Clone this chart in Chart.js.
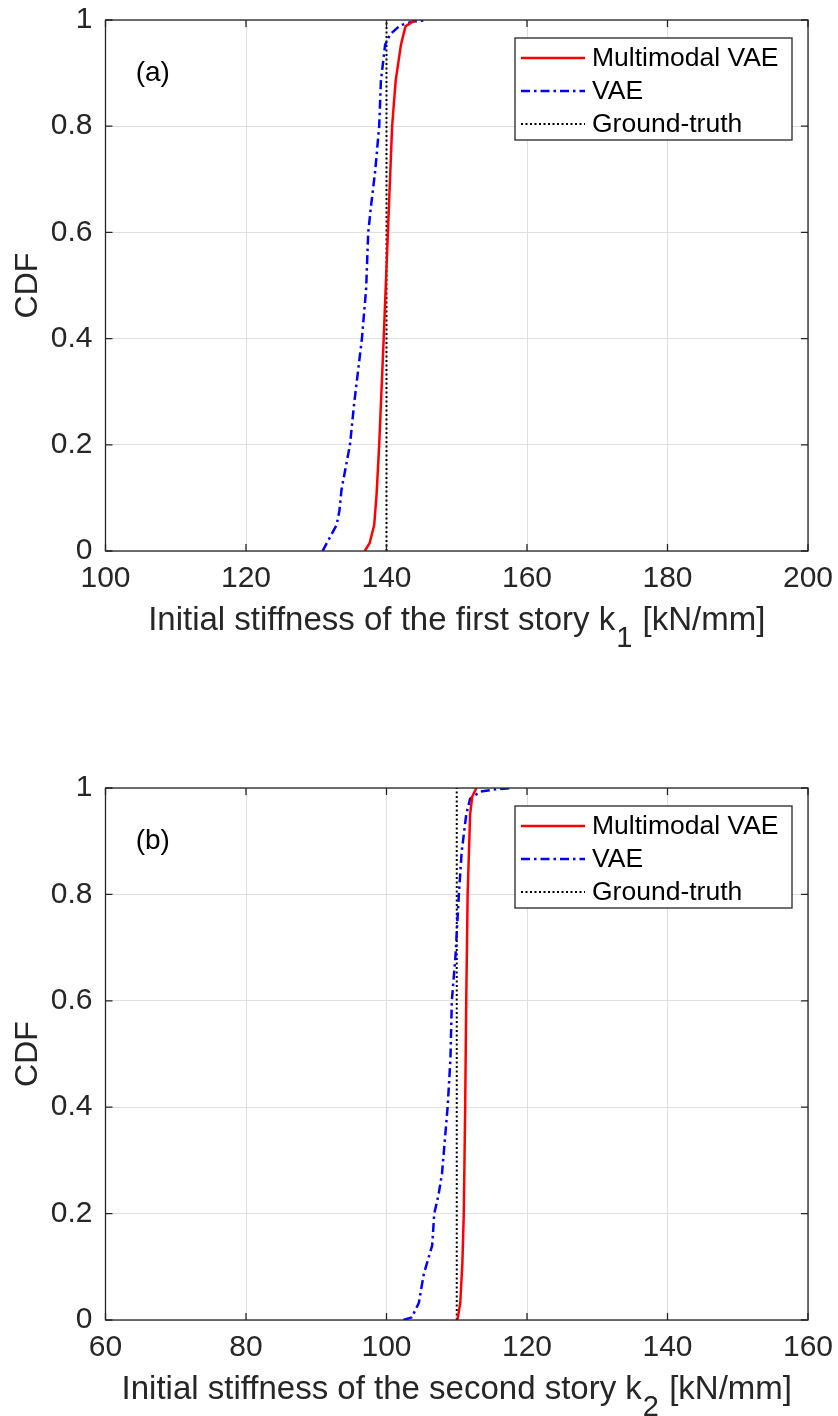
<!DOCTYPE html>
<html>
<head>
<meta charset="utf-8">
<script src="https://cdn.jsdelivr.net/npm/chart.js@4/dist/chart.umd.min.js"></script>
<style>
  body { margin: 0; background: #fff; }
  #wrap { position: relative; width: 838px; height: 1416px; }
  canvas { position: absolute; left: 0; }
</style>
</head>
<body>
<div id="wrap">
  <canvas id="chartTop" width="838" height="708" style="top:0px"></canvas>
  <canvas id="chartBottom" width="838" height="708" style="top:708px"></canvas>
</div>
<script>
const mvaeK1   = [136.9, 137.6, 138.25, 138.6, 138.96, 139.6, 140.2, 140.8, 141.3, 142.05, 142.7, 144.1];
const mvaeCdf1 = [0, 0.015, 0.049, 0.109, 0.2, 0.4, 0.6, 0.8, 0.885, 0.953, 0.988, 1.0];

const vaeK1   = [130.9, 131.5, 132.9, 133.3, 133.6, 134.8, 135.4, 136.5, 137.1, 137.4, 137.8, 138.4, 138.96, 139.2, 139.8, 140.5, 141.95, 143.8, 145.8];
const vaeCdf1 = [0, 0.015, 0.049, 0.076, 0.116, 0.2, 0.278, 0.4, 0.494, 0.6, 0.65, 0.717, 0.8, 0.885, 0.953, 0.973, 0.99, 0.997, 1.0];

// (b) second story k2
const mvaeK2   = [110.1, 110.5, 110.8, 111.0, 111.2, 111.35, 111.55, 111.9, 112.2, 112.8];
const mvaeCdf2 = [0, 0.032, 0.107, 0.2, 0.4, 0.6, 0.8, 0.95, 0.984, 1.0];

const vaeK2   = [102.4, 103.6, 104.6, 105.3, 106.5, 106.8, 107.4, 107.9, 108.7, 109.1, 109.3, 109.8, 110.3, 110.7, 111.35, 111.9, 113.3, 115.2, 117.9];
const vaeCdf2 = [0, 0.005, 0.032, 0.086, 0.14, 0.2, 0.235, 0.275, 0.4, 0.49, 0.6, 0.68, 0.8, 0.88, 0.95, 0.98, 0.993, 0.997, 1.0];

// ground truth stiffness
const truthK1 = 140;
const truthK2 = 110;

// ticks
const xTicks1 = [100, 120, 140, 160, 180, 200];
const xTicks2 = [60, 80, 100, 120, 140, 160];
const yTicks  = [0, 0.2, 0.4, 0.6, 0.8, 1];

const seriesNames = ["Multimodal VAE", "VAE", "Ground-truth"];

const FONT = "'Liberation Sans', Arial, Helvetica, sans-serif";
const AXIS_COLOR = "#262626";

function toPoints(xs, ys) {
  return xs.map((x, i) => ({ x: x, y: ys[i] }));
}

// MATLAB-ish box, inward ticks, panel tag, subscripted x title and legend
const matlabFrame = {
  id: "matlabFrame",
  afterDraw(chart, args, opts) {
    const ctx = chart.ctx;
    const a = chart.chartArea;
    const xs = chart.scales.x;
    const ys = chart.scales.y;
    ctx.save();

    // axes box
    ctx.strokeStyle = AXIS_COLOR;
    ctx.lineWidth = 1.3;
    ctx.setLineDash([]);
    ctx.strokeRect(a.left, a.top, a.right - a.left, a.bottom - a.top);

    // inward tick marks on all four sides
    const tl = 7;
    ctx.beginPath();
    xs.ticks.forEach(t => {
      const px = xs.getPixelForValue(t.value);
      ctx.moveTo(px, a.bottom); ctx.lineTo(px, a.bottom - tl);
      ctx.moveTo(px, a.top); ctx.lineTo(px, a.top + tl);
    });
    ys.ticks.forEach(t => {
      const py = ys.getPixelForValue(t.value);
      ctx.moveTo(a.left, py); ctx.lineTo(a.left + tl, py);
      ctx.moveTo(a.right, py); ctx.lineTo(a.right - tl, py);
    });
    ctx.stroke();

    // panel tag (a) / (b)
    ctx.fillStyle = "#000";
    ctx.font = "28px " + FONT;
    ctx.textAlign = "left";
    ctx.textBaseline = "middle";
    ctx.fillText(opts.panel, xs.getPixelForValue(opts.panelAt[0]), ys.getPixelForValue(opts.panelAt[1]));

    // x title with subscript
    const t = opts.title;
    ctx.fillStyle = AXIS_COLOR;
    ctx.textBaseline = "alphabetic";
    ctx.font = "33px " + FONT;
    const w0 = ctx.measureText(t[0]).width;
    const w2 = ctx.measureText(t[2]).width;
    ctx.font = "29px " + FONT;
    const w1 = ctx.measureText(t[1]).width + 2;
    const startX = (a.left + a.right) / 2 - (w0 + w1 + w2) / 2;
    const base = a.bottom + 79;
    ctx.font = "33px " + FONT;
    ctx.fillText(t[0], startX, base);
    ctx.fillText(t[2], startX + w0 + w1, base);
    ctx.font = "29px " + FONT;
    ctx.fillText(t[1], startX + w0 + 1, base + 17);

    // legend
    const bx = a.right - 293, by = a.top + 18, bw = 277, bh = 102;
    ctx.fillStyle = "#fff";
    ctx.fillRect(bx, by, bw, bh);
    ctx.strokeStyle = AXIS_COLOR;
    ctx.lineWidth = 1.3;
    ctx.strokeRect(bx, by, bw, bh);
    ctx.font = "26.5px " + FONT;
    ctx.textBaseline = "middle";
    chart.data.datasets.forEach((ds, i) => {
      const ry = by + 20 + i * 33;
      ctx.beginPath();
      ctx.strokeStyle = ds.borderColor;
      ctx.lineWidth = ds.borderWidth;
      ctx.setLineDash(ds.borderDash || []);
      ctx.moveTo(bx + 6, ry);
      ctx.lineTo(bx + 70, ry);
      ctx.stroke();
      ctx.setLineDash([]);
      ctx.fillStyle = "#000";
      ctx.fillText(ds.label, bx + 77, ry + 1);
    });

    ctx.restore();
  }
};

function makeChart(id, mvK, mvC, vK, vC, truth, xTicks, xMin, xMax, panel, panelAt, title, padTop, xAxisHeight) {
  return new Chart(id, {
    type: "line",
    data: {
      datasets: [
        {
          label: seriesNames[0],
          data: toPoints(mvK, mvC),
          borderColor: "#ff0000",
          borderWidth: 2.5,
          pointRadius: 0,
          tension: 0
        },
        {
          label: seriesNames[1],
          data: toPoints(vK, vC),
          borderColor: "#0000ff",
          borderWidth: 2.5,
          borderDash: [9, 4, 2.5, 4],
          pointRadius: 0,
          tension: 0
        },
        {
          label: seriesNames[2],
          data: [{ x: truth, y: 0 }, { x: truth, y: 1 }],
          borderColor: "#000000",
          borderWidth: 2,
          borderDash: [2, 2.5],
          pointRadius: 0
        }
      ]
    },
    options: {
      responsive: false,
      animation: false,
      layout: { padding: { left: 0, right: 30, top: padTop, bottom: 0 } },
      plugins: {
        legend: { display: false },
        tooltip: { enabled: false },
        matlabFrame: { panel: panel, panelAt: panelAt, title: title }
      },
      scales: {
        x: {
          type: "linear",
          min: xMin,
          max: xMax,
          afterBuildTicks: s => { s.ticks = xTicks.map(v => ({ value: v })); },
          afterFit: s => { s.height = xAxisHeight; s.paddingLeft = 0; s.paddingRight = 0; },
          grid: { color: "#dfdfdf", lineWidth: 1, drawTicks: false },
          border: { display: false },
          ticks: {
            autoSkip: false,
            maxRotation: 0,
            padding: 10,
            color: AXIS_COLOR,
            font: { family: FONT, size: 30 },
            callback: v => String(v)
          },
          title: { display: false, text: title.join("") }
        },
        y: {
          type: "linear",
          min: 0,
          max: 1,
          afterBuildTicks: s => { s.ticks = yTicks.map(v => ({ value: v })); },
          afterFit: s => { s.width = 105.5; s.paddingTop = 0; s.paddingBottom = 0; },
          grid: { color: "#dfdfdf", lineWidth: 1, drawTicks: false },
          border: { display: false },
          ticks: {
            autoSkip: false,
            padding: 13,
            color: AXIS_COLOR,
            font: { family: FONT, size: 30 },
            callback: v => String(v)
          },
          title: {
            display: true,
            text: "CDF",
            color: AXIS_COLOR,
            font: { family: FONT, size: 32 },
            padding: { top: 9, bottom: 0 }
          }
        }
      }
    },
    plugins: [matlabFrame]
  });
}

makeChart("chartTop", mvaeK1, mvaeCdf1, vaeK1, vaeCdf1, truthK1, xTicks1, 100, 200,
  "(a)", [104.3, 0.9], ["Initial stiffness of the first story k", "1", " [kN/mm]"], 20, 157);

makeChart("chartBottom", mvaeK2, mvaeCdf2, vaeK2, vaeCdf2, truthK2, xTicks2, 60, 160,
  "(b)", [64.3, 0.9], ["Initial stiffness of the second story k", "2", " [kN/mm]"], 80, 96);
</script>
</body>
</html>
